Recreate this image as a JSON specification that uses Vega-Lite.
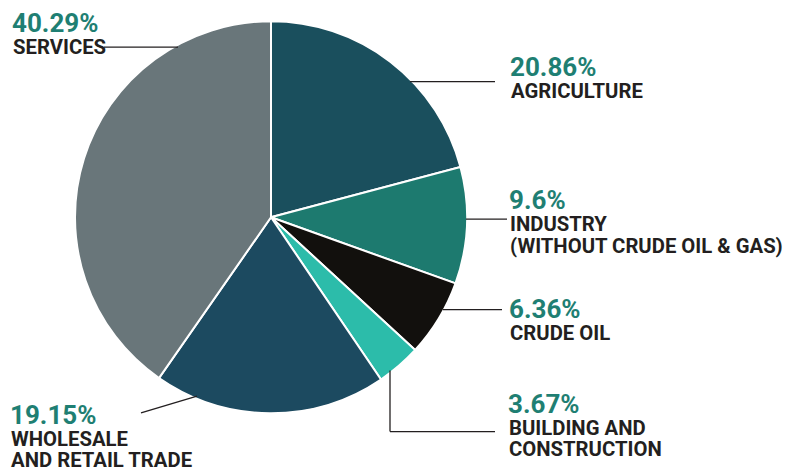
{
  "$schema": "https://vega.github.io/schema/vega-lite/v6.json",
  "width": 795,
  "height": 471,
  "autosize": {"type": "fit", "contains": "padding"},
  "padding": 0,
  "background": "white",
  "view": {"stroke": null},
  "datasets": {
    "slices": [
      {"sector": "Agriculture", "value": 20.86, "order": 1},
      {"sector": "Industry", "value": 9.6, "order": 2},
      {"sector": "Crude oil", "value": 6.36, "order": 3},
      {"sector": "Building and construction", "value": 3.67, "order": 4},
      {"sector": "Wholesale and retail trade", "value": 19.15, "order": 5},
      {"sector": "Services", "value": 40.29, "order": 6}
    ],
    "labels": [
      {"sector": "Services", "pct": "40.29%", "name": "SERVICES", "lx": 12, "ly": 33},
      {"sector": "Agriculture", "pct": "20.86%", "name": "AGRICULTURE", "lx": 510, "ly": 77},
      {"sector": "Industry", "pct": "9.6%", "name": "INDUSTRY\n(WITHOUT CRUDE OIL & GAS)", "lx": 509, "ly": 213},
      {"sector": "Crude oil", "pct": "6.36%", "name": "CRUDE OIL", "lx": 509, "ly": 323},
      {"sector": "Building and construction", "pct": "3.67%", "name": "BUILDING AND\nCONSTRUCTION", "lx": 508, "ly": 420},
      {"sector": "Wholesale and retail trade", "pct": "19.15%", "name": "WHOLESALE\nAND RETAIL TRADE", "lx": 10, "ly": 431}
    ],
    "leaders": [
      {"sector": "Services", "x1": 104, "y1": 48, "x2": 178, "y2": 48},
      {"sector": "Agriculture", "x1": 410, "y1": 83, "x2": 495, "y2": 83},
      {"sector": "Industry", "x1": 466, "y1": 223, "x2": 507, "y2": 223},
      {"sector": "Crude oil", "x1": 443, "y1": 315, "x2": 502, "y2": 315},
      {"sector": "Building and construction", "x1": 390, "y1": 377, "x2": 390, "y2": 439},
      {"sector": "Building and construction", "x1": 390, "y1": 439, "x2": 495, "y2": 439},
      {"sector": "Wholesale and retail trade", "x1": 141, "y1": 420, "x2": 197, "y2": 403}
    ]
  },
  "layer": [
    {
      "data": {"name": "slices"},
      "mark": {"type": "arc", "outerRadius": 196, "stroke": "white", "strokeWidth": 2},
      "encoding": {
        "x": {"datum": 271, "type": "quantitative", "scale": {"domain": [0, 795], "nice": false, "zero": false}, "axis": null},
        "y": {"datum": 221, "type": "quantitative", "scale": {"domain": [0, 471], "reverse": true, "nice": false, "zero": false}, "axis": null},
        "theta": {"field": "value", "type": "quantitative", "stack": true},
        "order": {"field": "order", "type": "quantitative"},
        "color": {
          "field": "sector",
          "type": "nominal",
          "legend": null,
          "scale": {
            "domain": ["Agriculture", "Industry", "Crude oil", "Building and construction", "Wholesale and retail trade", "Services"],
            "range": ["#1a4f5d", "#1d7a6f", "#12100d", "#2cbcaa", "#1c4a60", "#69767a"]
          }
        }
      }
    },
    {
      "data": {"name": "leaders"},
      "mark": {"type": "rule", "color": "#231f20", "strokeWidth": 1.3},
      "encoding": {
        "x": {"field": "x1", "type": "quantitative", "scale": {"domain": [0, 795], "nice": false, "zero": false}, "axis": null},
        "y": {"field": "y1", "type": "quantitative", "scale": {"domain": [0, 471], "reverse": true, "nice": false, "zero": false}, "axis": null},
        "x2": {"field": "x2"},
        "y2": {"field": "y2"}
      }
    },
    {
      "data": {"name": "labels"},
      "mark": {"type": "text", "font": "Roboto", "fontWeight": "bold", "fontSize": 26, "color": "#1f7f73", "align": "left", "baseline": "alphabetic"},
      "encoding": {
        "x": {"field": "lx", "type": "quantitative", "scale": {"domain": [0, 795], "nice": false, "zero": false}, "axis": null},
        "y": {"field": "ly", "type": "quantitative", "scale": {"domain": [0, 471], "reverse": true, "nice": false, "zero": false}, "axis": null},
        "text": {"field": "pct"}
      }
    },
    {
      "data": {"name": "labels"},
      "mark": {"type": "text", "font": "Roboto", "fontWeight": "bold", "fontSize": 20.3, "color": "#231f20", "align": "left", "baseline": "alphabetic", "dx": 1, "dy": 22, "lineBreak": "\n", "lineHeight": 21.5},
      "encoding": {
        "x": {"field": "lx", "type": "quantitative", "scale": {"domain": [0, 795], "nice": false, "zero": false}, "axis": null},
        "y": {"field": "ly", "type": "quantitative", "scale": {"domain": [0, 471], "reverse": true, "nice": false, "zero": false}, "axis": null},
        "text": {"field": "name"}
      }
    }
  ]
}
